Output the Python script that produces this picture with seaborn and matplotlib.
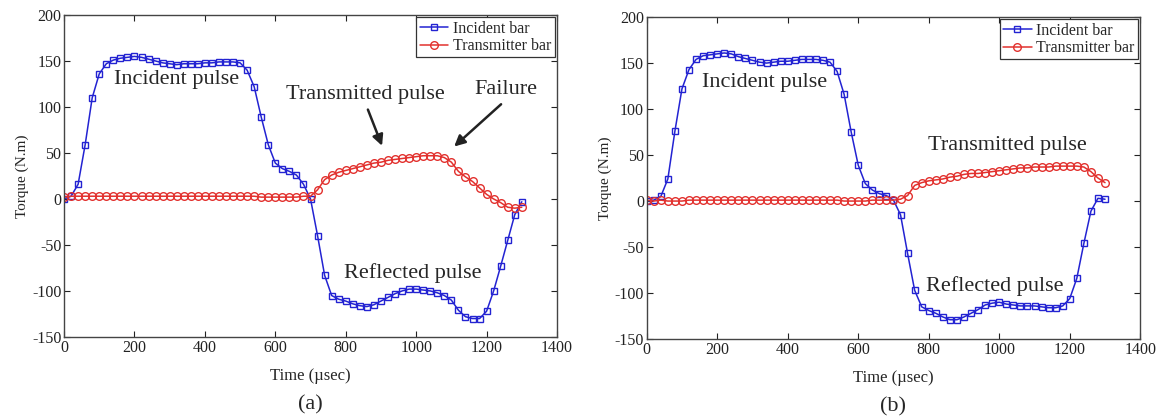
import matplotlib
matplotlib.use("Agg")
import matplotlib.pyplot as plt
import numpy as np
import seaborn as sns

# time axis (usec), one sample every 20 usec
time_us = list(range(0, 1301, 20))

# panel (a)
incident_a = [0, 3, 16, 59, 110, 136, 147, 151, 153, 154, 155, 154, 152, 150, 148, 147,
              146, 147, 147, 147, 148, 148, 149, 149, 149, 148, 140, 122, 89, 59, 39, 33,
              30, 26, 16, 0, -40, -83, -105, -109, -111, -114, -116, -117, -115, -111,
              -107, -103, -100, -98, -98, -99, -100, -102, -105, -110, -121, -128, -130,
              -130, -122, -100, -73, -45, -17, -3]
transmit_a = [2, 3, 3, 3, 3, 3, 3, 3, 3, 3, 3, 3, 3, 3, 3, 3,
              3, 3, 3, 3, 3, 3, 3, 3, 3, 3, 3, 3, 2, 2, 2, 2,
              2, 2, 3, 3, 10, 21, 26, 29, 31, 33, 35, 37, 39, 40,
              42, 43, 44, 45, 46, 47, 47, 47, 45, 40, 30, 24, 19,
              12, 5, 0, -4, -9, -10, -9]

# panel (b)
incident_b = [0, 1, 5, 24, 76, 122, 143, 154, 158, 159, 160, 161, 160, 157, 155, 153,
              151, 150, 151, 152, 152, 153, 154, 154, 154, 153, 151, 141, 116, 75, 39, 19,
              12, 8, 6, 1, -15, -57, -97, -115, -119, -122, -126, -129, -129, -126,
              -122, -118, -113, -111, -110, -112, -113, -114, -114, -114, -115, -116, -116,
              -114, -106, -84, -46, -11, 3, 2]
transmit_b = [1, 0, 1, 0, 0, 0, 1, 1, 1, 1, 1, 1, 1, 1, 1, 1,
              1, 1, 1, 1, 1, 1, 1, 1, 1, 1, 1, 1, 0, 0, 0, 0,
              1, 1, 1, 1, 2, 6, 17, 20, 22, 23, 24, 26, 27, 29,
              30, 30, 31, 32, 33, 34, 35, 36, 36, 37, 37, 37, 38,
              38, 38, 38, 37, 32, 25, 20]

BLUE = "#2323d2"
RED = "#e2312e"

sns.set_style("ticks")
plt.rcParams["font.family"] = ["Liberation Serif", "DejaVu Serif"]
plt.rcParams["axes.unicode_minus"] = False

fig = plt.figure(figsize=(11.6, 4.17), dpi=100)
ax_a = fig.add_axes([0.0552, 0.192, 0.425, 0.772])
ax_b = fig.add_axes([0.5575, 0.187, 0.4255, 0.772])


def draw_panel(ax, inc, trans, tag):
    sns.lineplot(x=time_us, y=inc, ax=ax, color=BLUE, linewidth=1.1,
                 marker="s", markersize=5, markerfacecolor="none",
                 markeredgecolor=BLUE, markeredgewidth=1.0, label="Incident bar")
    sns.lineplot(x=time_us, y=trans, ax=ax, color=RED, linewidth=1.1,
                 marker="o", markersize=5.5, markerfacecolor="none",
                 markeredgecolor=RED, markeredgewidth=1.0, label="Transmitter bar")
    ax.set_xlim(0, 1400)
    ax.set_ylim(-150, 200)
    ax.set_xticks(range(0, 1401, 200))
    ax.set_yticks(range(-150, 201, 50))
    ax.tick_params(direction="in", top=True, right=True, labelsize=11.5,
                   length=4, width=0.8, colors="#222222", pad=2)
    for sp in ax.spines.values():
        sp.set_visible(True)
        sp.set_linewidth(1.0)
        sp.set_color("#444444")
    ax.set_xlabel("Time (\u00b5sec)", fontsize=12, labelpad=9)
    ax.set_ylabel("Torque (N.m)", fontsize=11, labelpad=2)
    leg = ax.legend(loc="upper right", fontsize=11.5, handlelength=1.8,
                    handletextpad=0.3, borderpad=0.2, labelspacing=0.1,
                    fancybox=False, framealpha=1, borderaxespad=0.15)
    leg.get_frame().set_edgecolor("#333333")
    leg.get_frame().set_linewidth(0.9)
    ax.text(0.5, -0.211, tag, transform=ax.transAxes, ha="center", va="center",
            fontsize=16)


draw_panel(ax_a, incident_a, transmit_a, "(a)")
draw_panel(ax_b, incident_b, transmit_b, "(b)")

# annotations, panel (a)
ax_a.text(320, 130, "Incident pulse", fontsize=16, ha="center", va="center")
ax_a.text(855, 114, "Transmitted pulse", fontsize=16, ha="center", va="center")
ax_a.text(1255, 119, "Failure", fontsize=16, ha="center", va="center")
ax_a.text(990, -80, "Reflected pulse", fontsize=16, ha="center", va="center")
arrow = dict(arrowstyle="-|>", color="#222222", lw=1.8, mutation_scale=16)
ax_a.annotate("", xy=(906, 55), xytext=(860, 100), arrowprops=arrow)
ax_a.annotate("", xy=(1102, 55), xytext=(1247, 105), arrowprops=arrow)

# annotations, panel (b)
ax_b.text(335, 129, "Incident pulse", fontsize=16, ha="center", va="center")
ax_b.text(1024, 60, "Transmitted pulse", fontsize=16, ha="center", va="center")
ax_b.text(986, -92, "Reflected pulse", fontsize=16, ha="center", va="center")

fig.savefig("out.png", dpi=100)
